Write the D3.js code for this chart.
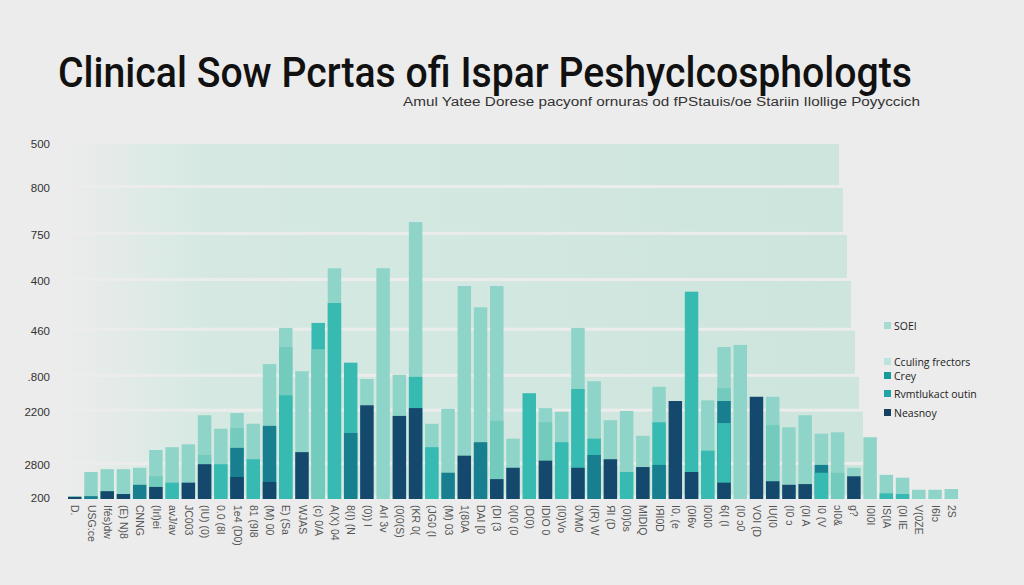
<!DOCTYPE html>
<html><head><meta charset="utf-8">
<script src="https://cdn.jsdelivr.net/npm/d3@7"></script>
<style>html,body{margin:0;padding:0;background:#ececec;}svg{display:block;}</style>
</head><body>
<svg id="chart" width="1024" height="585"></svg>
<script>
// ---------- data ----------
const categories = ["D.","USG:ce","Ifés)dw","(E) N)8","CNNG","(Irl)ei","avJ/av","JC003","(IU) (0)","0.0 (8I",
"1e4 (D0)","81 (9I8","(M) 00","E) (Sa","WJAS","(c) 0/A","A(X) 04","8(I) (N","(0)) l","ArI 3v",
"(0(0(S)","(KR 0(","(JG0 (I","(M) 03","1(80A","DAI [0","(DI (3","0(I0 (0","(D(0)","IDIO 0",
"(I0)Vo","0VM0","I(R) W","ЯI (D","(0I)0s","MIDIQ","IЯI0D","I0, (e","(0I6v","l00I0",
"6(I (I","(I0 ɔ0","VOI (D","IU(I0","(I0 ɔ","(0I A","I0 (V","ɔI0&","g?","I0I0I",
"IS(IA","(0I IE","V(0ZE","I6Iɔ","2S"];
const lightVals = [4,38,42,42,44,69,73,77,118,99,121,106,190,241,180,0,325,0,169,325,175,390,106,127,300,270,300,85,0,128,123,241,166,111,124,89,158,0,0,139,214,217,0,144,101,118,92,94,44,87,34,30,13,13,14];
const midVals   = [0,0,0,0,0,32,0,0,62,0,100,0,0,214,0,211,0,0,0,0,0,0,0,0,0,0,110,0,0,108,0,0,0,0,0,0,0,0,0,0,156,0,0,104,0,0,0,37,0,0,0,0,0,0,0];
const tealVals  = [0,0,0,0,0,0,23,0,0,49,0,56,0,146,0,248,276,192,0,0,0,172,73,0,0,0,0,0,149,0,80,155,85,0,38,0,108,0,292,68,107,0,0,0,0,0,37,0,0,0,8,7,0,0,0];
const darkVals  = [0,4,0,0,20,0,0,0,0,0,72,0,103,0,0,0,0,93,0,0,0,0,0,37,0,80,0,0,0,0,0,0,62,0,0,0,48,0,0,0,138,0,0,0,0,0,48,0,0,0,0,0,0,0,0];
const navyVals  = [3,0,11,7,0,17,0,23,49,0,31,0,24,0,66,0,0,0,132,0,117,128,0,0,61,0,28,44,0,54,0,44,0,56,0,45,0,138,38,0,23,0,144,25,20,21,0,0,32,0,0,0,0,0,0];
const yTickValues = [500,438,372,307,237,172,123,48,1];
const yTickLabels = ["500","800","750","400","460",".800","2200","2800","200"];
const legendLabels = ["SOEI","Cculing frectors","Crey","Rvmtlukact outin","Neasnoy"];
const titleText = "Clinical Sow Pcrtas ofi Ispar Peshyclcosphologts";
const subtitleText = "Amul Yatee Dorese pacyonf ornuras od fPStauis/oe Stariin Ilollige Poyyccich";

// ---------- styles ----------
const seriesColors = {L:"#8fd4c8", M:"#73cbbd", T:"#37bab1", D:"#177f90", N:"#15486d"};
const legendColors = ["#a6dbd2","#bde4dc","#169c98","#22a3a5","#173f60"];

const svg = d3.select("#chart");
const x = d3.scaleBand().domain(categories).range([68, 958]).paddingInner(0.17);
const y = d3.scaleLinear().domain([0, 500]).range([499, 144]);

// background gradient bands
const defs = svg.append("defs");
const grad = defs.append("linearGradient").attr("id","bandGrad").attr("x1","0").attr("x2","1").attr("y1","0").attr("y2","0");
grad.append("stop").attr("offset","0").attr("stop-color","#ececec");
grad.append("stop").attr("offset","0.18").attr("stop-color","#d5e9e2");
grad.append("stop").attr("offset","1").attr("stop-color","#cde5dd");

const tickPos = yTickValues.map(v => y(v));
const bands = d3.pairs(tickPos);
svg.append("g").selectAll("rect").data(bands).join("rect")
  .attr("x", 62)
  .attr("y", d => d[0])
  .attr("width", (d,i) => 777 + i*4)
  .attr("height", d => Math.max(0, d[1]-d[0]-3))
  .attr("fill", "url(#bandGrad)");

// bars: overlapping layers, tallest first
const layers = categories.map((c,i) => {
  const arr = [
    {k:"L", v:lightVals[i]}, {k:"M", v:midVals[i]}, {k:"T", v:tealVals[i]},
    {k:"D", v:darkVals[i]}, {k:"N", v:navyVals[i]}
  ].filter(d => d.v > 0).sort((a,b) => b.v - a.v);
  return arr.map(d => ({cat:c, k:d.k, v:d.v}));
}).flat();

svg.append("g").selectAll("rect").data(layers).join("rect")
  .attr("x", d => x(d.cat))
  .attr("width", x.bandwidth())
  .attr("y", d => y(d.v))
  .attr("height", d => y(0) - y(d.v))
  .attr("fill", d => seriesColors[d.k]);

// y axis labels
const yAxis = d3.axisLeft(y).tickValues(yTickValues).tickFormat((d,i) => yTickLabels[i]).tickSize(0).tickPadding(0);
const yg = svg.append("g").attr("transform","translate(50,0)").call(yAxis);
yg.select(".domain").remove();
yg.selectAll("text").attr("font-family","Liberation Sans, Arial, sans-serif").attr("font-size",11.5).attr("fill","#333");

// x labels (rotated)
const xAxis = d3.axisBottom(x).tickSize(0).tickPadding(0);
const xg = svg.append("g").attr("transform","translate(0,503)").call(xAxis);
xg.select(".domain").remove();
xg.selectAll("text")
  .attr("transform","rotate(90)")
  .attr("x", 2).attr("y", 0).attr("dy","0.32em")
  .attr("text-anchor","start")
  .attr("font-family","Liberation Sans Narrow, Liberation Sans, sans-serif")
  .attr("font-size",10.5).attr("fill","#555");

// title
svg.append("text").attr("x",58).attr("y",87)
  .attr("textLength",854).attr("lengthAdjust","spacingAndGlyphs")
  .attr("font-family","Roboto, sans-serif").attr("font-weight",500)
  .attr("font-size",43).attr("fill","#111").text(titleText);
svg.append("text").attr("x",403).attr("y",106)
  .attr("textLength",517).attr("lengthAdjust","spacingAndGlyphs")
  .attr("font-family","Liberation Sans Narrow, Liberation Sans, sans-serif")
  .attr("font-size",12.5).attr("fill","#333").text(subtitleText);

// legend
const legendY = [326, 362, 376, 394, 413];
const lg = svg.append("g").selectAll("g").data(legendLabels).join("g")
  .attr("transform",(d,i) => `translate(884,${legendY[i]})`);
lg.append("rect").attr("x",0).attr("y",-4).attr("width",7).attr("height",7).attr("fill",(d,i)=>legendColors[i]);
lg.append("text").attr("x",10).attr("y",0).attr("dy","0.35em")
  .attr("font-family","Open Sans, sans-serif").attr("font-size",10.5).attr("fill","#222").text(d=>d);
</script>
</body></html>
